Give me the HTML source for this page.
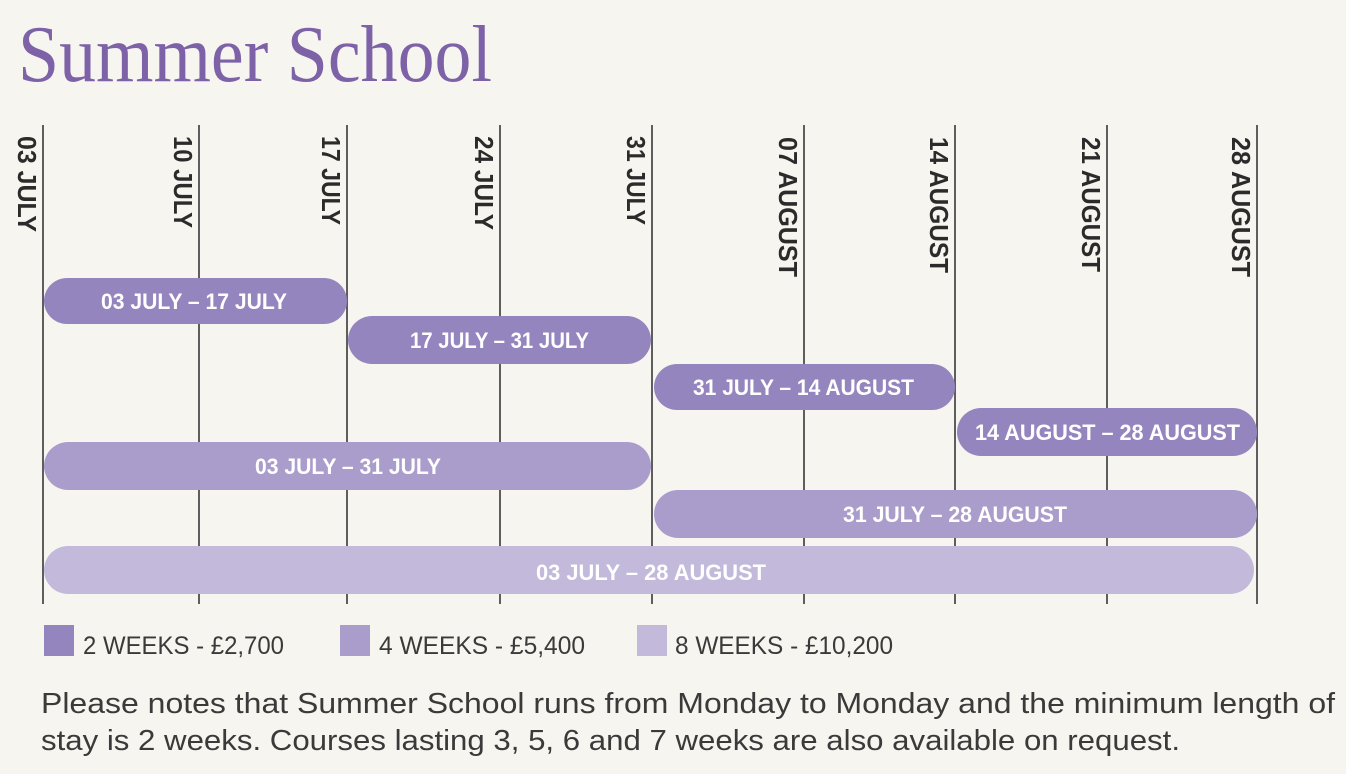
<!DOCTYPE html>
<html><head><meta charset="utf-8"><style>
html,body{margin:0;padding:0;background:#f6f5f0;}
svg{display:block;}
</style></head><body>
<svg width="1346" height="774" viewBox="0 0 1346 774" xmlns="http://www.w3.org/2000/svg">
<rect width="1346" height="774" fill="#f6f5f0"/>
<text x="18" y="81" font-family="Liberation Serif, serif" font-size="80" fill="#7d62a8" textLength="474" lengthAdjust="spacingAndGlyphs">Summer School</text>

<g stroke="#5e5e5e" stroke-width="2">
<line x1="43" y1="125" x2="43" y2="604"/>
<line x1="199" y1="125" x2="199" y2="604"/>
<line x1="347" y1="125" x2="347" y2="604"/>
<line x1="500" y1="125" x2="500" y2="604"/>
<line x1="652" y1="125" x2="652" y2="604"/>
<line x1="804" y1="125" x2="804" y2="604"/>
<line x1="955" y1="125" x2="955" y2="604"/>
<line x1="1107" y1="125" x2="1107" y2="604"/>
<line x1="1257" y1="125" x2="1257" y2="604"/>
</g>

<g font-family="Liberation Sans, sans-serif" font-weight="bold" font-size="26" fill="#2b2b2b">
<text transform="translate(18,136) rotate(90)" textLength="96" lengthAdjust="spacingAndGlyphs">03 JULY</text>
<text transform="translate(174,136) rotate(90)" textLength="92" lengthAdjust="spacingAndGlyphs">10 JULY</text>
<text transform="translate(322,136) rotate(90)" textLength="89" lengthAdjust="spacingAndGlyphs">17 JULY</text>
<text transform="translate(475,136) rotate(90)" textLength="94" lengthAdjust="spacingAndGlyphs">24 JULY</text>
<text transform="translate(627,136) rotate(90)" textLength="89" lengthAdjust="spacingAndGlyphs">31 JULY</text>
<text transform="translate(779,137) rotate(90)" textLength="140" lengthAdjust="spacingAndGlyphs">07 AUGUST</text>
<text transform="translate(930,137) rotate(90)" textLength="136" lengthAdjust="spacingAndGlyphs">14 AUGUST</text>
<text transform="translate(1082,137) rotate(90)" textLength="135" lengthAdjust="spacingAndGlyphs">21 AUGUST</text>
<text transform="translate(1232,137) rotate(90)" textLength="140" lengthAdjust="spacingAndGlyphs">28 AUGUST</text>
</g>

<g>
<rect x="44" y="278" width="303" height="46" rx="23" fill="#9585bf"/>
<rect x="348" y="316" width="303" height="48" rx="24" fill="#9585bf"/>
<rect x="654" y="364" width="301" height="46" rx="23" fill="#9585bf"/>
<rect x="957" y="408" width="300" height="48" rx="24" fill="#9585bf"/>
<rect x="44" y="442" width="607" height="48" rx="24" fill="#ab9dcb"/>
<rect x="654" y="490" width="603" height="48" rx="24" fill="#ab9dcb"/>
<rect x="44" y="546" width="1210" height="48" rx="24" fill="#c2b9db"/>
</g>

<g font-family="Liberation Sans, sans-serif" font-weight="bold" font-size="22" fill="#ffffff">
<text x="101" y="309" textLength="186" lengthAdjust="spacingAndGlyphs">03 JULY – 17 JULY</text>
<text x="410" y="348" textLength="179" lengthAdjust="spacingAndGlyphs">17 JULY – 31 JULY</text>
<text x="693" y="395" textLength="221" lengthAdjust="spacingAndGlyphs">31 JULY – 14 AUGUST</text>
<text x="975" y="440" textLength="265" lengthAdjust="spacingAndGlyphs">14 AUGUST – 28 AUGUST</text>
<text x="255" y="474" textLength="186" lengthAdjust="spacingAndGlyphs">03 JULY – 31 JULY</text>
<text x="843" y="522" textLength="224" lengthAdjust="spacingAndGlyphs">31 JULY – 28 AUGUST</text>
<text x="536" y="580" textLength="230" lengthAdjust="spacingAndGlyphs">03 JULY – 28 AUGUST</text>
</g>

<rect x="44" y="625" width="30" height="31" fill="#9585bf"/>
<rect x="340" y="625" width="30" height="31" fill="#ab9dcb"/>
<rect x="637" y="625" width="30" height="31" fill="#c2b9db"/>
<g font-family="Liberation Sans, sans-serif" font-size="25" fill="#3a3a3a">
<text x="83" y="654" textLength="201" lengthAdjust="spacingAndGlyphs">2 WEEKS - £2,700</text>
<text x="379" y="654" textLength="206" lengthAdjust="spacingAndGlyphs">4 WEEKS - £5,400</text>
<text x="675" y="654" textLength="218" lengthAdjust="spacingAndGlyphs">8 WEEKS - £10,200</text>
</g>

<g font-family="Liberation Sans, sans-serif" font-size="29" fill="#3a3a3a">
<text x="41" y="713" textLength="1294" lengthAdjust="spacingAndGlyphs">Please notes that Summer School runs from Monday to Monday and the minimum length of</text>
<text x="41" y="750" textLength="1139" lengthAdjust="spacingAndGlyphs">stay is 2 weeks. Courses lasting 3, 5, 6 and 7 weeks are also available on request.</text>
</g>
</svg>
</body></html>
